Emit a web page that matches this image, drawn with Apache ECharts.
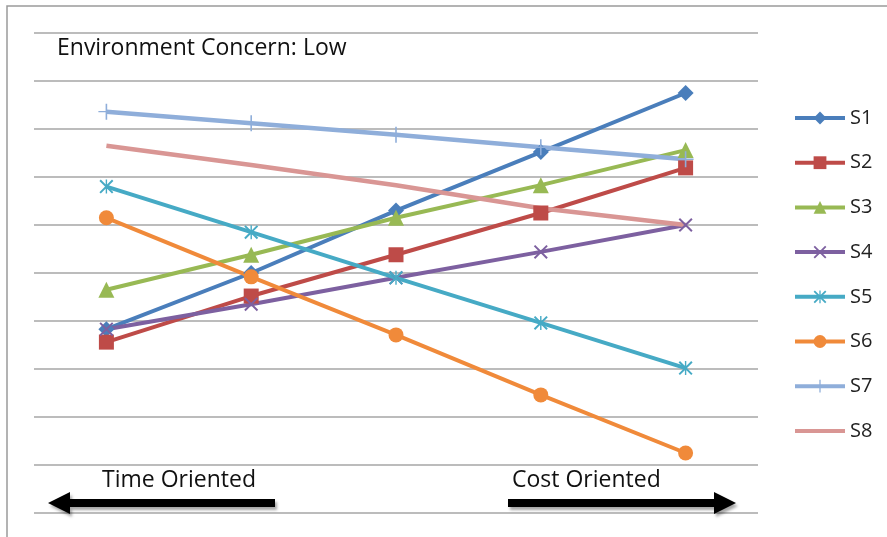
<!DOCTYPE html>
<html>
<head>
<meta charset="utf-8">
<script src="https://cdn.jsdelivr.net/npm/echarts@6/dist/echarts.min.js"></script>
<style>
  html, body { margin: 0; padding: 0; background: #fff; }
  #main { width: 887px; height: 537px; }
</style>
</head>
<body>
<div id="main"></div>
<script>
// five positions along the time -> cost axis (no labels shown)
var categories = ["1", "2", "3", "4", "5"];
var seriesNames = ["S1", "S2", "S3", "S4", "S5", "S6", "S7", "S8"];
var s1 = [3.83, 5.0, 6.3, 7.52, 8.75];
var s2 = [3.56, 4.52, 5.38, 6.25, 7.19];
var s3 = [4.65, 5.38, 6.15, 6.83, 7.56];
var s4 = [3.83, 4.35, 4.9, 5.44, 6.0];
var s5 = [6.8, 5.85, 4.9, 3.96, 3.02];
var s6 = [6.15, 4.92, 3.71, 2.46, 1.25];
var s7 = [8.36, 8.12, 7.88, 7.62, 7.37];
var s8 = [7.65, 7.25, 6.83, 6.35, 6.0];
var values = [s1, s2, s3, s4, s5, s6, s7, s8];

var colors = ["#4A7EBB", "#BE4B48", "#98B954", "#7D60A0", "#46AAC5", "#F08A3A", "#8FAEDA", "#D99694"];

var xPath = "path://M0,1L1,0L10,9L9,10Z M9,0L10,1L1,10L0,9Z";
var starPath = "path://M0,1L1,0L10,9L9,10Z M9,0L10,1L1,10L0,9Z M4.5,0L5.5,0L5.5,10L4.5,10Z";
var plusPath = "path://M4.6,0L5.4,0L5.4,10L4.6,10Z M1,4.6L9,4.6L9,5.4L1,5.4Z";
var symbols = ["diamond", "rect", "triangle", xPath, starPath, "circle", plusPath, "none"];
var sizes = [16, 15, 16, 14, 14, 15, 16, 0];
var widths = [4, 4, 4, 4, 4, 4, 4.5, 4.5];

var font = "'Open Sans', sans-serif";

var series = [];
for (var i = 0; i < seriesNames.length; i++) {
  series.push({
    name: seriesNames[i],
    type: "line",
    data: values[i],
    symbol: symbols[i],
    symbolSize: sizes[i],
    showSymbol: symbols[i] !== "none",
    lineStyle: { width: widths[i], color: colors[i] },
    itemStyle: { color: colors[i] },
    emphasis: { disabled: true }
  });
}

var legendData = seriesNames.map(function (n) {
  // S8 has no marker, only the line
  return n === "S8" ? { name: n, itemStyle: { opacity: 0 } } : n;
});

// arrow shape used for the two direction hints at the bottom
function arrow(x1, x2, y, dir) {
  var head = 22, half = 11, shaft = 4;
  var pts;
  if (dir > 0) {
    pts = [[x1, y - shaft], [x2 - head, y - shaft], [x2 - head, y - half], [x2, y],
           [x2 - head, y + half], [x2 - head, y + shaft], [x1, y + shaft]];
  } else {
    pts = [[x2, y - shaft], [x1 + head, y - shaft], [x1 + head, y - half], [x1, y],
           [x1 + head, y + half], [x1 + head, y + shaft], [x2, y + shaft]];
  }
  return {
    type: "polygon",
    shape: { points: pts },
    style: { fill: "#000", shadowBlur: 3, shadowOffsetX: 2, shadowOffsetY: 3, shadowColor: "rgba(0,0,0,0.35)" },
    z: 100
  };
}

var chart = echarts.init(document.getElementById("main"));
var option = {
  animation: false,
  color: colors,
  title: {
    text: "Environment Concern: Low",
    left: 57,
    top: 37,
    padding: 0,
    textStyle: { fontFamily: font, fontSize: 23, fontWeight: "normal", color: "#111" }
  },
  legend: {
    orient: "vertical",
    left: 793,
    top: 108,
    padding: 0,
    itemWidth: 50,
    itemHeight: 16,
    itemGap: 24.7,
    data: legendData,
    lineStyle: { width: 4 },
    textStyle: { fontFamily: font, fontSize: 20, color: "#222" },
    selectedMode: false
  },
  grid: { left: 34, right: 129, top: 33, bottom: 24 },
  xAxis: {
    type: "category",
    data: categories,
    boundaryGap: true,
    axisLine: { show: false },
    axisTick: { show: false },
    axisLabel: { show: false }
  },
  yAxis: {
    type: "value",
    min: 0,
    max: 10,
    interval: 1,
    axisLabel: { show: false },
    axisLine: { show: false },
    axisTick: { show: false },
    splitLine: { lineStyle: { color: "#A6A6A6", width: 1.5 } }
  },
  graphic: [
    { type: "rect", shape: { x: 7, y: 6, width: 900, height: 600 }, style: { fill: "none", stroke: "#9A9A9A", lineWidth: 1.5 }, silent: true },
    { type: "text", left: 102, top: 469, style: { text: "Time Oriented", font: "23px " + font, fill: "#111" }, z: 100 },
    { type: "text", left: 512, top: 469, style: { text: "Cost Oriented", font: "23px " + font, fill: "#111" }, z: 100 },
    arrow(48, 275, 503, -1),
    arrow(508, 736, 503, 1)
  ],
  series: series
};
chart.setOption(option);
</script>
</body>
</html>
